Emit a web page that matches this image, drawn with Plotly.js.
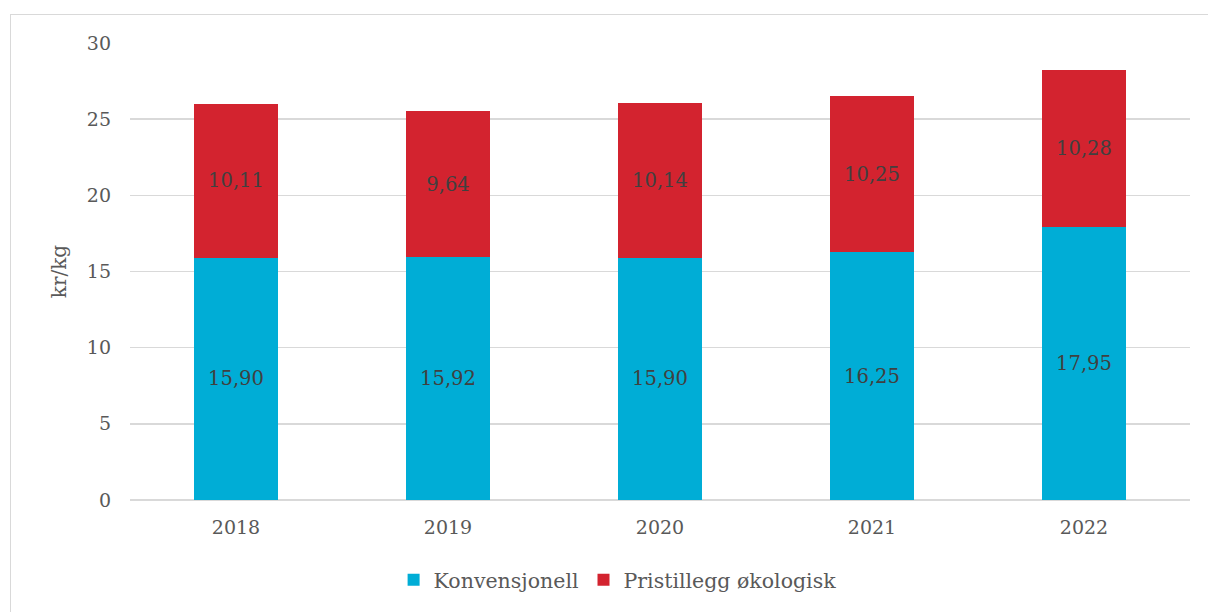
<!DOCTYPE html>
<html>
<head>
<meta charset="utf-8">
<script src="https://cdn.plot.ly/plotly-3.0.1.min.js"></script>
<style>
html,body{margin:0;padding:0;background:#fff;}
#wrap{position:relative;width:1208px;height:612px;overflow:hidden;}
#chart{position:absolute;left:0;top:0;width:1208px;height:612px;}
#frame{position:absolute;left:10px;top:14px;width:1220px;height:640px;border:1.5px solid #d9d9d9;pointer-events:none;}
</style>
</head>
<body>
<div id="wrap"><div id="chart"></div><div id="frame"></div></div>
<script>
const years = ['2018', '2019', '2020', '2021', '2022'];
const konvensjonell = [15.90, 15.92, 15.90, 16.25, 17.95];
const pristillegg = [10.11, 9.64, 10.14, 10.25, 10.28];
const seriesNames = ['Konvensjonell', 'Pristillegg økologisk'];
const yTicks = [0, 5, 10, 15, 20, 25, 30];

const FONT = "Georgia, 'DejaVu Serif', serif";
const fmt = v => v.toFixed(2).replace('.', ',');

const traces = [
  {
    type: 'bar', name: seriesNames[0], x: years, y: konvensjonell,
    text: konvensjonell.map(fmt), textposition: 'inside', insidetextanchor: 'middle',
    textfont: {family: FONT, size: 19.5, color: '#404040'},
    marker: {color: '#00ADD6'}, hoverinfo: 'x+y', cliponaxis: false
  },
  {
    type: 'bar', name: seriesNames[1], x: years, y: pristillegg,
    text: pristillegg.map(fmt), textposition: 'inside', insidetextanchor: 'middle',
    textfont: {family: FONT, size: 19.5, color: '#404040'},
    marker: {color: '#D3232F'}, hoverinfo: 'x+y', cliponaxis: false
  }
];

const layout = {
  width: 1208, height: 612,
  margin: {l: 130, r: 18, t: 43, b: 112},
  barmode: 'stack',
  bargap: 0.6,
  paper_bgcolor: 'rgba(0,0,0,0)',
  plot_bgcolor: 'rgba(0,0,0,0)',
  font: {family: FONT, color: '#595959', size: 18},
  xaxis: {
    type: 'category', tickfont: {family: FONT, size: 19, color: '#595959'},
    showgrid: false, zeroline: false, showline: false, ticks: '',
    ticklabelstandoff: 14
  },
  yaxis: {
    range: [0, 30], tickvals: yTicks, ticktext: yTicks.map(String),
    showgrid: true, gridcolor: '#d9d9d9', gridwidth: 1.5,
    zeroline: true, zerolinecolor: '#d9d9d9', zerolinewidth: 1.5,
    showline: false, ticks: '',
    tickfont: {family: FONT, size: 19, color: '#595959'},
    ticklabelstandoff: 18,
    title: {text: 'kr/kg', font: {family: FONT, size: 20, color: '#595959'}, standoff: 14}
  },
  showlegend: true,
  legend: {
    orientation: 'h', x: 0.46, xanchor: 'center', y: -0.175, yanchor: 'middle',
    font: {family: FONT, size: 20.5, color: '#595959'},
    traceorder: 'normal', itemwidth: 30
  }
};

Plotly.newPlot('chart', traces, layout, {displayModeBar: false, staticPlot: true});
</script>
</body>
</html>
